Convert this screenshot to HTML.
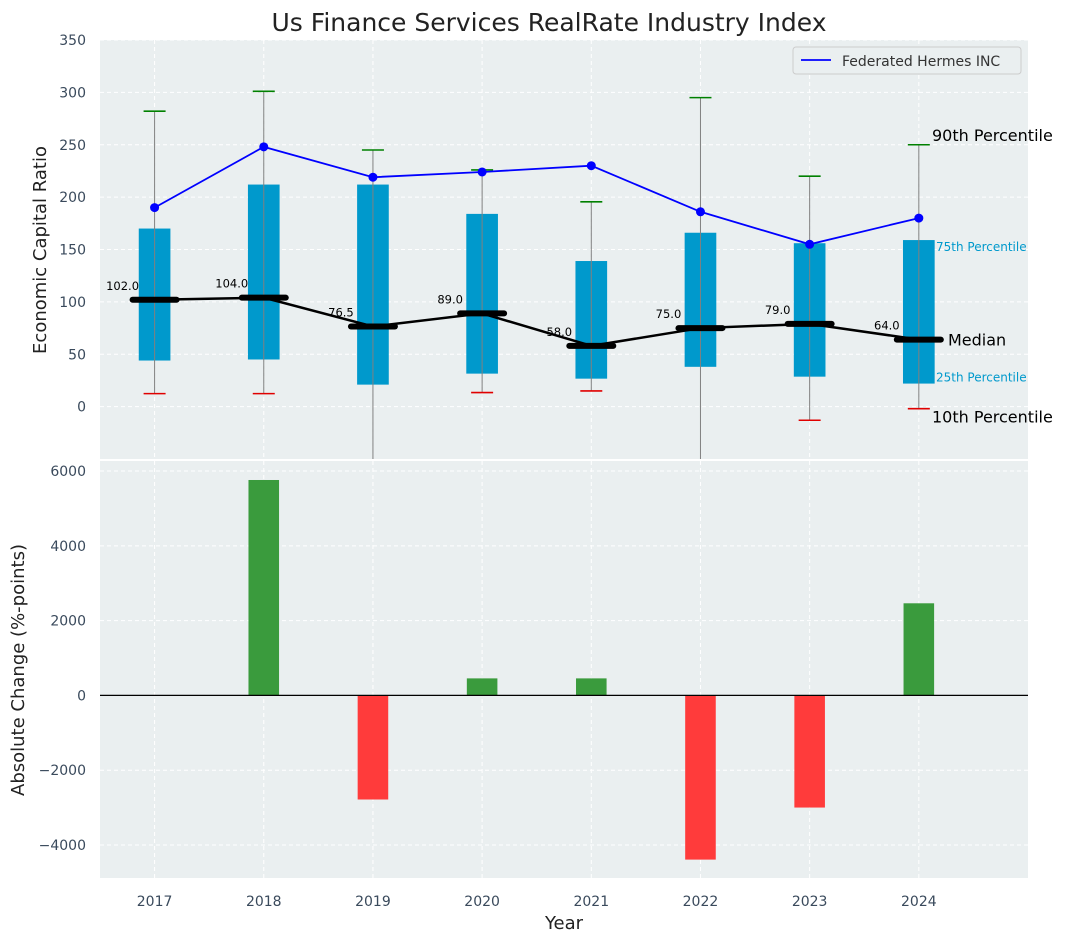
<!DOCTYPE html>
<html><head><meta charset="utf-8"><style>
body{margin:0;background:#fff;}
svg text{font-family:"DejaVu Sans","Liberation Sans",sans-serif;}
</style></head><body>
<svg id="chart" width="1067" height="942" xmlns="http://www.w3.org/2000/svg"></svg>
<script>
const years=[2017,2018,2019,2020,2021,2022,2023,2024];
const p10=[12.4,12.4,-60,13.4,15,-80,-13,-2];
const p25=[44,45,21,31.5,26.7,38,28.6,22];
const median=[102,104,76.5,89,58,75,79,64];
const p75=[170,212,212,184,139,166,156,159];
const p90=[282,301,245,226,195.5,295,220,250];
const company=[190,248,219,224,230,186,155,180];
const change=[0,5760,-2784,455,455,-4391,-2999,2463];
const topTicks=[0,50,100,150,200,250,300,350];
const botTicks=[-4000,-2000,0,2000,4000,6000];

const svg=document.getElementById('chart');
const NS='http://www.w3.org/2000/svg';
function el(t,a,p){const e=document.createElementNS(NS,t);for(const k in a)e.setAttribute(k,a[k]);(p||svg).appendChild(e);return e;}
const L=100,R=1028;
const xs=v=>L+(v-2016.5)/(2025-2016.5)*(R-L);
const T1=40,B1=459,T2=461,B2=878;
const y1=v=>T1+(350-v)/(350+50)*(B1-T1);
const y2=v=>T2+(6268-v)/(6268+4883)*(B2-T2);

function panel(T,B,ys,ticks,name){
  const bg=el('rect',{x:L,y:T,width:R-L,height:B-T,fill:'#eaeff0'});
  
  
  ticks.forEach(t=>{
    el('line',{x1:L,x2:R,y1:ys(t),y2:ys(t),stroke:'#fff','stroke-dasharray':'4,3','stroke-width':1});
    const tx=el('text',{x:L-14,y:ys(t)+5,'text-anchor':'end','font-size':14,fill:'#3a4a5c'});
    tx.textContent=(t<0?'\u2212'+(-t):t);
    
    
  });
  years.forEach(yr=>el('line',{x1:xs(yr),x2:xs(yr),y1:T,y2:B,stroke:'#fff','stroke-dasharray':'4,3','stroke-width':1}));
}
panel(T1,B1,y1,topTicks,'top');
panel(T2,B2,y2,botTicks,'bottom');

const bw=0.29*(xs(1)-xs(0));
years.forEach((yr,i)=>{
  const x=xs(yr);
  const box=el('rect',{x:x-bw/2,y:y1(p75[i]),width:bw,height:y1(p25[i])-y1(p75[i]),fill:'#0099cc'});
  
  
  el('line',{x1:x,x2:x,y1:Math.max(y1(p90[i]),T1),y2:Math.min(y1(p10[i]),B1),stroke:'#808080','stroke-width':1});
  el('line',{x1:x-11,x2:x+11,y1:y1(p90[i]),y2:y1(p90[i]),stroke:'#008000','stroke-width':1.6});
  if(y1(p10[i])<B1) el('line',{x1:x-11,x2:x+11,y1:y1(p10[i]),y2:y1(p10[i]),stroke:'#e00000','stroke-width':1.6});
});
let md='';years.forEach((yr,i)=>md+=(i?'L':'M')+xs(yr)+','+y1(median[i]));
const ml=el('path',{d:md,fill:'none',stroke:'#000','stroke-width':2.5});


years.forEach((yr,i)=>{
  const x=xs(yr);
  el('line',{x1:x-22,x2:x+22,y1:y1(median[i]),y2:y1(median[i]),stroke:'#000','stroke-width':6,'stroke-linecap':'round'});
  const t=el('text',{x:x-32,y:y1(median[i])-10,'text-anchor':'middle','font-size':11.5,fill:'#000'});
  t.textContent=median[i].toFixed(1);
  
  
});
let cd='';years.forEach((yr,i)=>cd+=(i?'L':'M')+xs(yr)+','+y1(company[i]));
const cl=el('path',{d:cd,fill:'none',stroke:'#0000ff','stroke-width':1.8});


years.forEach((yr,i)=>{
  const c=el('circle',{cx:xs(yr),cy:y1(company[i]),r:4.5,fill:'#0000ff'});
  
  
});
const ann=[['90th Percentile',932,y1(p90[7])-4,16,'#000'],['75th Percentile',936,y1(p75[7])+11,12,'#0099cc'],['Median',948,y1(median[7])+6,16,'#000'],['25th Percentile',936,y1(p25[7])-2,12,'#0099cc'],['10th Percentile',932,y1(p10[7])+14,16,'#000']];
ann.forEach(a=>{const t=el('text',{x:a[1],y:a[2],'font-size':a[3],fill:a[4]});t.textContent=a[0];
  
  });

const bb=0.28*(xs(1)-xs(0));
years.forEach((yr,i)=>{
  if(change[i]===0)return;
  const r=el('rect',{x:xs(yr)-bb/2,y:Math.min(y2(0),y2(change[i])),width:bb,height:Math.abs(y2(change[i])-y2(0)),fill:change[i]>0?'#3a9b3d':'#ff3b3b'});
  
  
});
el('line',{x1:L,x2:R,y1:y2(0),y2:y2(0),stroke:'#000','stroke-width':1.2});

years.forEach(yr=>{const t=el('text',{x:xs(yr),y:906,'text-anchor':'middle','font-size':14,fill:'#3a4a5c'});t.textContent=yr;
  
  });

let t=el('text',{x:549,y:31,'text-anchor':'middle','font-size':25,fill:'#222'});t.textContent='Us Finance Services RealRate Industry Index';


t=el('text',{x:564,y:929,'text-anchor':'middle','font-size':18,fill:'#222'});t.textContent='Year';


t=el('text',{x:0,y:0,'text-anchor':'middle','font-size':18,fill:'#222',transform:'translate(46,250) rotate(-90)'});t.textContent='Economic Capital Ratio';


t=el('text',{x:0,y:0,'text-anchor':'middle','font-size':18,fill:'#222',transform:'translate(24,670) rotate(-90)'});t.textContent='Absolute Change (%-points)';



const lg=el('g',{});


el('rect',{x:793,y:47,width:228,height:27,rx:3,fill:'#eaeff0',stroke:'#ccc'},lg);
el('line',{x1:801,x2:831,y1:60,y2:60,stroke:'#0000ff','stroke-width':1.8},lg);
t=el('text',{x:842,y:66,'font-size':14,fill:'#333'},lg);t.textContent='Federated Hermes INC';


</script>
</body></html>
